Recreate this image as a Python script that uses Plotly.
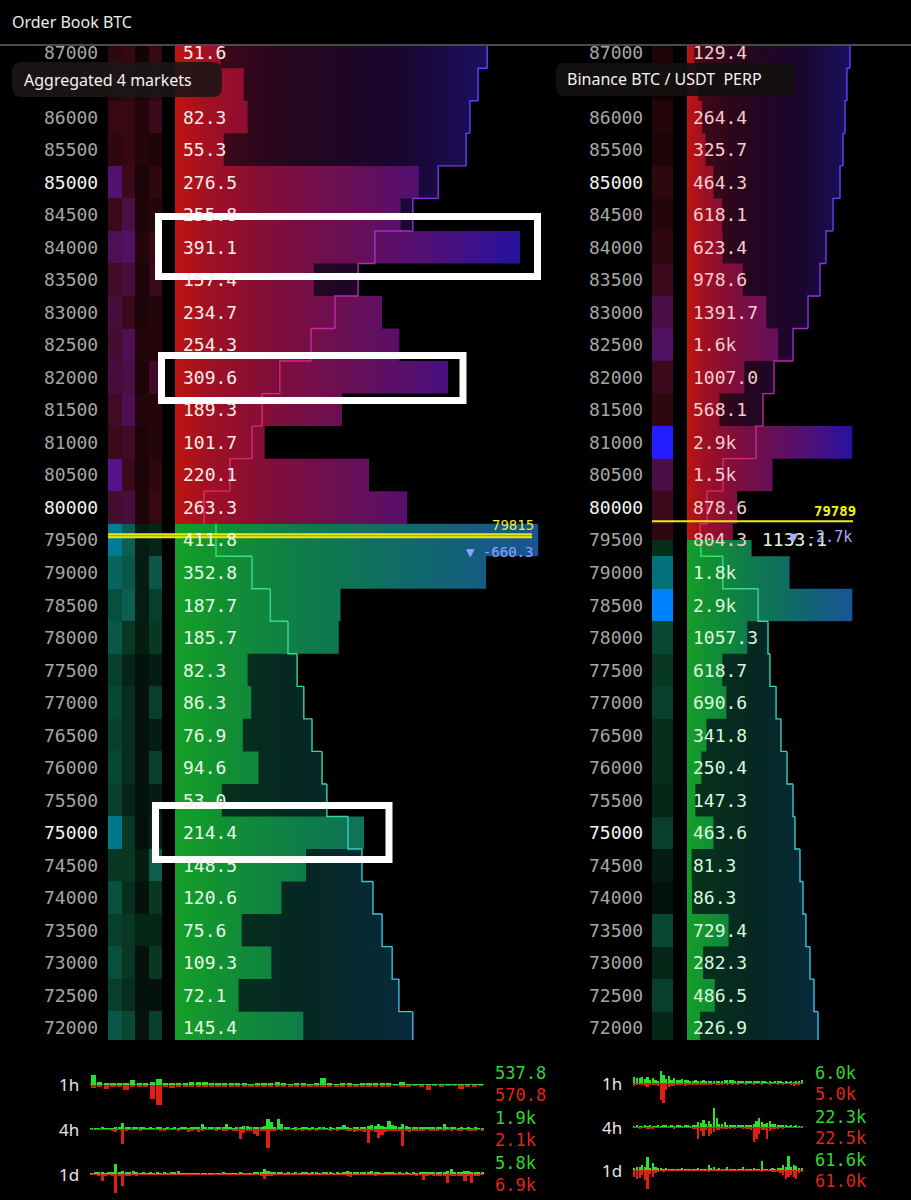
import plotly.graph_objects as go
from plotly.colors import sample_colorscale

W, H = 911, 1200
MONO = "DejaVu Sans Mono"
SANS = "Noto Sans"

# ---------------- data ----------------
# Left panel: aggregated 4 markets (rows labelled by price)
L_ASK_PRICES = [80000, 80500, 81000, 81500, 82000, 82500, 83000, 83500,
                84000, 84500, 85000, 85500, 86000, 86500, 87000]
L_ASK_VALUES = [263.3, 220.1, 101.7, 189.3, 309.6, 254.3, 234.7, 157.4,
                391.1, 255.8, 276.5, 55.3, 82.3, 78.0, 51.6]
L_ASK_CUM = [250, 520, 750, 855, 1040, 1365, 1615, 1855,
             2030, 2425, 2690, 2980, 3020, 3105, 3200]
L_ASK_CELLS = [[0.45, 0.50, 0.15, 0.30], [0.80, 0.35, 0.15, 0.25], [0.35, 0.40, 0.15, 0.20],
               [0.40, 0.60, 0.20, 0.20], [0.50, 0.55, 0.15, 0.40], [0.45, 0.60, 0.20, 0.20],
               [0.50, 0.35, 0.15, 0.20], [0.40, 0.50, 0.15, 0.35], [0.60, 0.65, 0.20, 0.30],
               [0.35, 0.55, 0.15, 0.20], [0.70, 0.35, 0.15, 0.25], [0.25, 0.30, 0.20, 0.15],
               [0.30, 0.30, 0.20, 0.35], [0.20, 0.25, 0.15, 0.25], [0.25, 0.30, 0.10, 0.30]]

L_BID_PRICES = [79500, 79000, 78500, 78000, 77500, 77000, 76500, 76000,
                75500, 75000, 74500, 74000, 73500, 73000, 72500, 72000]
L_BID_VALUES = [411.8, 352.8, 187.7, 185.7, 82.3, 86.3, 76.9, 94.6,
                53.0, 214.4, 148.5, 120.6, 75.6, 109.3, 72.1, 145.4]
L_BID_CUM = [375, 750, 940, 1125, 1220, 1290, 1375, 1480,
             1530, 1750, 1895, 2010, 2105, 2210, 2280, 2425]
L_BID_CELLS = [[0.80, 0.55, 0.15, 0.20], [0.60, 0.50, 0.15, 0.50], [0.45, 0.55, 0.15, 0.35],
               [0.50, 0.30, 0.15, 0.30], [0.35, 0.20, 0.10, 0.15], [0.40, 0.25, 0.10, 0.35],
               [0.35, 0.25, 0.10, 0.15], [0.40, 0.25, 0.10, 0.35], [0.35, 0.20, 0.10, 0.15],
               [0.75, 0.30, 0.10, 0.20], [0.30, 0.30, 0.15, 0.55], [0.45, 0.25, 0.10, 0.30],
               [0.35, 0.30, 0.20, 0.20], [0.45, 0.30, 0.10, 0.30], [0.35, 0.25, 0.10, 0.10],
               [0.50, 0.40, 0.10, 0.35]]
L_MID, L_CHANGE = 79815, "▼ -660.3"

# Right panel: Binance BTC/USDT PERP
R_ASK_PRICES = [79500, 80000, 80500, 81000, 81500, 82000, 82500, 83000,
                83500, 84000, 84500, 85000, 85500, 86000, 86500, 87000]
R_ASK_VALUES = [804.3, 878.6, 1500, 2900, 568.1, 1007.0, 1600, 1391.7,
                978.6, 623.4, 618.1, 464.3, 325.7, 264.4, 200.0, 129.4]
R_ASK_CUM = [1070, 1640, 2950, 5650, 6230, 7130, 8690, 9920,
             10900, 11390, 11970, 12540, 12790, 12950, 13110, 13360]
R_ASK_CELLS = [0.25, 0.35, 0.55, 1.0, 0.25, 0.35, 0.65, 0.55,
               0.35, 0.25, 0.20, 0.25, 0.15, 0.20, 0.10, 0.15]
R_BID_PRICES = [79500, 79000, 78500, 78000, 77500, 77000, 76500, 76000,
                75500, 75000, 74500, 74000, 73500, 73000, 72500, 72000]
R_BID_VALUES = [1133.1, 1800, 2900, 1057.3, 618.7, 690.6, 341.8, 250.4,
                147.3, 463.6, 81.3, 86.3, 729.4, 282.3, 486.5, 226.9]
R_BID_CUM = [1133, 2933, 5833, 6640, 6800, 7300, 7700, 8200,
             8690, 8850, 9260, 9510, 9750, 10080, 10410, 10740]
R_BID_CELLS = [0.25, 0.70, 1.0, 0.40, 0.30, 0.35, 0.25, 0.25,
               0.20, 0.35, 0.15, 0.10, 0.40, 0.20, 0.35, 0.20]
R_MID, R_CHANGE = 79789, "▼ -2.7k"
R_SPLIT = 79500          # row shared by asks (upper half) and bids (lower half)
HIDDEN_ROWS = {86500}    # covered by the market label boxes

# Trade-flow sparklines (buy up / sell down), relative heights
L_1H_BUY = [28,8,5,5,7,4,15,5,4,8,18,7,6,5,7,8,8,10,5,4,3,4,3,5,2,3,4,3,10,3,
            2,4,3,2,6,20,4,2,3,3,2,3,5,7,4,3,2,8,2,1,1,1,2,1,1,1,1,2,1,2]
L_1H_SELL = [10,3,12,6,5,15,4,3,5,40,58,5,8,4,6,3,5,4,3,6,4,3,7,5,4,3,5,4,6,3,
             4,5,3,4,3,6,4,3,5,6,3,4,3,5,4,3,2,4,3,2,3,15,2,5,2,2,12,3,4,2]
L_4H_BUY = [2,1,2,3,2,1,2,3,4,18, 3,4,5,3,4,3,2,3,2,4, 3,2,4,2,3,2,3,4,2,3,
            3,4,15,4,3,5,4,3,4,15, 3,2,4,5,10,8,6,5,4,6, 8,28,20,6,30,15,5,3,2,3,
            2,3,4,2,3,2,3,4,2,3, 2,3,4,12,3,2,4,5,6,7, 10,12,8,14,9,7,22,12,8,7,
            14,8,6,7,5,6,4,5,6,4, 3,4,15,3,4,3,2,3,2,3, 2,3,2,2]
L_4H_SELL = [1,2,1,2,1,2,3,8,2,45, 3,2,1,2,3,2,1,2,1,2, 3,5,2,1,2,3,2,2,8,3,
             2,10,3,2,1,2,3,2,6,3, 2,3,4,30,12,4,6,15,20,5, 4,55,6,3,2,3,2,1,2,3,
             2,3,2,3,2,3,2,1,2,3, 2,3,2,2,3,4,10,6,5,8, 42,6,9,25,18,8,6,5,4,7,
             48,6,8,4,3,4,3,2,3,4, 3,2,4,2,3,2,3,4,2,3, 4,3,2,3]
L_1D_BUY = [2,3,4,3,2,4,5,28,4,10, 5,4,8,3,2,3,2,3,2,3, 2,3,2,3,4,10,2,1,2,1,
            1,2,1,2,1,2,1,2,3,2, 2,1,2,3,2,1,2,3,5,6, 15,8,5,4,6,3,2,3,2,3,
            2,4,3,2,3,4,2,3,4,3, 2,3,2,4,10,5,3,4,3,4, 3,8,4,3,2,3,4,3,2,3,
            2,3,2,3,2,3,4,3,5,4, 6,5,7,8,15,6,5,7,10,8, 6,5,4,3]
L_1D_SELL = [1,2,3,20,4,2,3,55,5,35, 4,3,2,3,2,1,2,1,2,1, 1,2,1,1,2,1,1,2,1,1,
             1,1,2,1,1,2,1,1,2,1, 1,2,1,1,2,1,2,1,2,3, 15,4,3,2,1,2,1,2,1,2,
             1,2,1,1,2,1,2,1,1,2, 1,2,1,2,3,10,2,1,2,1, 2,1,5,2,1,2,1,2,1,2,
             1,2,1,2,3,2,18,3,2,3, 4,3,5,25,6,4,5,3,20,6, 25,4,3,2]
R_1H_BUY = [17,16,14,17,12,18,10,14,8,6, 35,24,12,20,10,16,8,10,12,8, 9,6,7,8,5,6,8,6,5,6,
            4,7,5,6,8,10,9,8,6,5, 4,3,5,4,3,4,3,5,4,3, 2,3,2,3,4,3,2,3,2,3, 2,4,3,8]
R_1H_SELL = [8,6,7,5,8,12,6,5,4,8, 50,58,20,12,8,10,6,7,5,8, 4,5,3,4,3,4,5,3,4,3,
             2,3,4,3,2,3,2,3,2,3, 2,2,3,2,2,3,2,2,3,2, 2,3,2,2,3,2,3,2,2,3, 10,4,3,2]
R_4H_BUY = [2,3,2,2,3,2,3,2,2,3, 2,3,4,2,3,2,3,4,2,3, 3,2,4,6,15,12,20,8,18,10,
            55,25,10,8,15,6,4,3,5,4, 3,4,3,5,6,10,18,25,15,10, 12,18,8,8,6,5,4,3,2,3, 2,3,2,2]
R_4H_SELL = [1,2,3,2,2,3,6,3,2,1, 2,1,2,1,2,5,1,2,1,2, 1,2,3,5,35,12,25,8,25,20,
             15,8,10,6,5,4,3,2,3,2, 2,3,4,6,10,45,35,20,10,8, 35,12,6,4,3,2,3,2,1,2, 1,2,1,2]
R_1D_BUY = [6,10,8,15,8,38,6,20,8,4, 3,2,3,2,1,2,1,2,3,2, 1,2,1,2,3,2,1,2,15,3,
            10,2,3,2,1,8,2,1,2,1, 2,10,2,1,2,3,2,1,25,2, 1,2,3,2,4,6,15,8,40,10, 15,12,6,3]
R_1D_SELL = [20,25,22,15,30,55,12,20,8,3, 2,3,2,1,2,1,2,1,2,1, 1,2,1,1,2,1,1,2,3,1,
             2,1,2,1,1,2,1,1,2,1, 1,2,1,1,2,1,1,2,3,1, 2,1,3,4,6,10,15,25,20,15, 20,25,8,3]
PERIODS = ["1h", "4h", "1d"]
L_TOTALS = [("537.8", "570.8"), ("1.9k", "2.1k"), ("5.8k", "6.9k")]
R_TOTALS = [("6.0k", "5.0k"), ("22.3k", "22.5k"), ("61.6k", "61.0k")]

# ---------------- styles ----------------
ASK_BAR_CS = [[0, 'rgb(190,20,15)'], [0.1, 'rgb(160,16,35)'], [0.28, 'rgb(128,14,58)'],
              [0.55, 'rgb(100,15,92)'], [0.8, 'rgb(72,16,128)'], [1, 'rgb(38,18,160)']]
BID_BAR_CS = [[0, 'rgb(20,160,38)'], [0.12, 'rgb(18,145,50)'], [0.35, 'rgb(14,125,72)'],
              [0.65, 'rgb(16,105,105)'], [1, 'rgb(24,84,150)']]
ASK_AREA_CS = [[0, 'rgb(72,9,22)'], [0.35, 'rgb(38,6,30)'], [0.7, 'rgb(26,6,45)'],
               [1, 'rgb(26,16,95)']]
BID_AREA_CS = [[0, 'rgb(7,52,28)'], [0.5, 'rgb(5,40,34)'], [1, 'rgb(6,42,60)']]
ASK_LINE_CS = [[0, 'rgb(235,40,95)'], [0.5, 'rgb(195,40,165)'], [0.8, 'rgb(135,50,230)'],
               [1, 'rgb(90,70,255)']]
BID_LINE_CS = [[0, 'rgb(50,230,110)'], [0.6, 'rgb(60,210,170)'], [1, 'rgb(60,190,235)']]
ASK_CELL_CS = [[0, 'rgb(0,0,0)'], [0.3, 'rgb(55,8,18)'], [0.55, 'rgb(75,15,70)'],
               [0.8, 'rgb(85,20,140)'], [1, 'rgb(35,30,255)']]
BID_CELL_CS = [[0, 'rgb(0,0,0)'], [0.3, 'rgb(8,55,35)'], [0.55, 'rgb(10,95,80)'],
               [0.8, 'rgb(0,125,150)'], [1, 'rgb(0,130,255)']]
GREEN, RED = 'rgb(40,225,40)', 'rgb(225,30,20)'


def xd(a, b):
    return [a / W, b / W]


def yd(a, b):
    return [1 - b / H, 1 - a / H]


def fmt(v):
    return f"{v / 1000:.1f}k" if v >= 1500 else f"{v:.1f}"


fig = go.Figure()
annotations = []
shapes = []


def ann(text, x, y, size=18, color='white', family=MONO, xanchor='left', yref='paper', bold=False, **kw):
    yy = y if yref != 'paper' else 1 - y / H
    annotations.append(dict(text=f"<b>{text}</b>" if bold else text, x=x / W, y=yy, xref='paper', yref=yref,
                            xanchor=xanchor, yanchor='middle', showarrow=False,
                            font=dict(size=size, color=color, family=family), **kw))


def area_poly(cum, y_start, y_end):
    xs, ys = [0], [y_start[0]]
    for c, a, b in zip(cum, y_start, y_end):
        xs += [c, c]
        ys += [a, b]
    xs.append(0)
    ys.append(y_end[-1])
    return xs, ys


def rects(vals, y0s, y1s):
    xs, ys = [], []
    for v, a, b in zip(vals, y0s, y1s):
        xs += [0, v, v, 0, 0, None]
        ys += [a, a, b, b, a, None]
    return xs, ys


def add_side(vals, cum, y_start, y_end, bar_cs, area_cs, line_cs, xa_area, xa_bar, xa_line, ya):
    ax, ay = area_poly(cum, y_start, y_end)
    fig.add_trace(go.Scatter(x=ax, y=ay, mode='none', fill='toself',
                             fillgradient=dict(type='horizontal', colorscale=area_cs, start=0, stop=max(cum)),
                             xaxis=xa_area, yaxis=ya, hoverinfo='skip', showlegend=False))
    y0s = [min(a, b) for a, b in zip(y_start, y_end)]
    y1s = [max(a, b) for a, b in zip(y_start, y_end)]
    bx, by = rects(vals, y0s, y1s)
    fig.add_trace(go.Scatter(x=bx, y=by, mode='none', fill='toself',
                             fillgradient=dict(type='horizontal', colorscale=bar_cs, start=0, stop=max(vals)),
                             xaxis=xa_bar, yaxis=ya, hoverinfo='skip', showlegend=False))
    cols = sample_colorscale(line_cs, [c / max(cum) for c in cum])
    for i, c in enumerate(cum):
        xs, ys = [c, c], [y_start[i], y_end[i]]
        if i + 1 < len(cum):
            xs.append(cum[i + 1])
            ys.append(y_end[i])
        fig.add_trace(go.Scatter(x=xs, y=ys, mode='lines', line=dict(color=cols[i], width=1.4),
                                 xaxis=xa_line, yaxis=ya, hoverinfo='skip', showlegend=False))


# ---------- left panel (rows span [P, P+500]) ----------
add_side(L_ASK_VALUES, L_ASK_CUM, L_ASK_PRICES, [p + 500 for p in L_ASK_PRICES],
         ASK_BAR_CS, ASK_AREA_CS, ASK_LINE_CS, 'x', 'x2', 'x3', 'y')
add_side(L_BID_VALUES, L_BID_CUM, [p + 500 for p in L_BID_PRICES], L_BID_PRICES,
         BID_BAR_CS, BID_AREA_CS, BID_LINE_CS, 'x', 'x2', 'x3', 'y')
fig.add_trace(go.Heatmap(z=L_ASK_CELLS, x=[0, 1, 2, 3], y=L_ASK_PRICES + [L_ASK_PRICES[-1] + 500],
                         colorscale=ASK_CELL_CS, zmin=0, zmax=1, showscale=False,
                         xaxis='x7', yaxis='y', hoverinfo='skip'))
bid_asc = L_BID_PRICES[::-1]
fig.add_trace(go.Heatmap(z=L_BID_CELLS[::-1], x=[0, 1, 2, 3], y=bid_asc + [bid_asc[-1] + 500],
                         colorscale=BID_CELL_CS, zmin=0, zmax=1, showscale=False,
                         xaxis='x7', yaxis='y', hoverinfo='skip'))

# ---------- right panel (rows span [P-250, P+250], split row shared) ----------
r_ask_lo = [max(p - 250, R_SPLIT) for p in R_ASK_PRICES]
r_ask_hi = [p + 250 for p in R_ASK_PRICES]
r_bid_hi = [min(p + 250, R_SPLIT) for p in R_BID_PRICES]
r_bid_lo = [p - 250 for p in R_BID_PRICES]
add_side(R_ASK_VALUES, R_ASK_CUM, r_ask_lo, r_ask_hi,
         ASK_BAR_CS, ASK_AREA_CS, ASK_LINE_CS, 'x4', 'x5', 'x6', 'y2')
add_side(R_BID_VALUES, R_BID_CUM, r_bid_hi, r_bid_lo,
         BID_BAR_CS, BID_AREA_CS, BID_LINE_CS, 'x4', 'x5', 'x6', 'y2')
fig.add_trace(go.Heatmap(z=[[v] for v in R_ASK_CELLS], x=[0], y=[r_ask_lo[0]] + r_ask_hi,
                         colorscale=ASK_CELL_CS, zmin=0, zmax=1, showscale=False,
                         xaxis='x8', yaxis='y2', hoverinfo='skip'))
fig.add_trace(go.Heatmap(z=[[v] for v in R_BID_CELLS[::-1]], x=[0], y=[r_bid_lo[-1]] + r_bid_hi[::-1],
                         colorscale=BID_CELL_CS, zmin=0, zmax=1, showscale=False,
                         xaxis='x8', yaxis='y2', hoverinfo='skip'))

# ---------- sparklines ----------
spark_sets = [
    ('x9', 'y3', L_1H_BUY, L_1H_SELL, xd(90, 484), 1084.5, 0.8),
    ('x10', 'y4', L_4H_BUY, L_4H_SELL, xd(90, 484), 1129, 0.9),
    ('x11', 'y5', L_1D_BUY, L_1D_SELL, xd(90, 484), 1174, 0.9),
    ('x12', 'y6', R_1H_BUY, R_1H_SELL, xd(633, 803), 1083, 0.85),
    ('x13', 'y7', R_4H_BUY, R_4H_SELL, xd(633, 803), 1127, 0.85),
    ('x14', 'y8', R_1D_BUY, R_1D_SELL, xd(633, 803), 1170, 0.85),
]
layout_axes = {}
for xa, ya, buy, sell, dom, base, bw in spark_sets:
    idx = list(range(len(buy)))
    fig.add_trace(go.Bar(x=idx, y=buy, marker=dict(color=GREEN, line=dict(width=0)), width=bw,
                         xaxis=xa, yaxis=ya, hoverinfo='skip', showlegend=False))
    fig.add_trace(go.Bar(x=idx, y=[-s for s in sell], marker=dict(color=RED, line=dict(width=0)), width=bw,
                         xaxis=xa, yaxis=ya, hoverinfo='skip', showlegend=False))
    layout_axes['xaxis' + xa[1:]] = dict(domain=dom, range=[-0.5, len(buy) - 0.5], anchor=ya,
                                         visible=False, fixedrange=True)
    layout_axes['yaxis' + ya[1:]] = dict(domain=yd(base - 22, base + 22), range=[-64, 64], anchor=xa,
                                         showticklabels=False, showgrid=False, zeroline=True,
                                         zerolinecolor='#6a6a6a', zerolinewidth=1, ticks='',
                                         showline=False, fixedrange=True)

# ---------- text: price + value labels ----------
def price_color(p):
    return '#f4f4f4' if p % 5000 == 0 else '#a6a6a6'


for p, v in zip(L_ASK_PRICES + L_BID_PRICES, L_ASK_VALUES + L_BID_VALUES):
    if p in HIDDEN_ROWS:
        continue
    ann(str(p), 100, p + 250, color=price_color(p), xanchor='right', yref='y')
    ann(fmt(v), 181, p + 250, color='#f8ecec' if p >= 80000 else '#e6fae6', yref='y')

for p in sorted(set(R_ASK_PRICES + R_BID_PRICES), reverse=True):
    if p in HIDDEN_ROWS:
        continue
    ann(str(p), 645, p, color=price_color(p), xanchor='right', yref='y2')
for p, v in zip(R_ASK_PRICES, R_ASK_VALUES):
    if p not in HIDDEN_ROWS:
        ann(fmt(v), 691, p, color='#f6cccc', yref='y2')
for p, v in zip(R_BID_PRICES, R_BID_VALUES):
    x = 760 if p == R_SPLIT else 691
    ann(fmt(v), x, p, color='#dcf8dc', yref='y2')

# ---------- mid price lines ----------
shapes.append(dict(type='line', xref='paper', yref='y', x0=108 / W, x1=532 / W, y0=L_MID, y1=L_MID,
                   line=dict(color='rgb(232,232,20)', width=5), layer='above'))
shapes.append(dict(type='line', xref='paper', yref='y', x0=108 / W, x1=532 / W, y0=L_MID, y1=L_MID,
                   line=dict(color='rgb(150,150,30)', width=1), layer='above'))
shapes.append(dict(type='line', xref='paper', yref='y2', x0=652 / W, x1=853 / W, y0=R_MID, y1=R_MID,
                   line=dict(color='rgb(235,235,20)', width=2), layer='above'))
ann(str(L_MID), 536, 525, size=14, color='rgb(240,240,30)', xanchor='right')
ann(L_CHANGE, 535, 552, size=14, color='rgb(150,160,255)', xanchor='right')
ann(str(R_MID), 858, 511, size=14, color='rgb(245,245,10)', xanchor='right', bold=True)
ann(R_CHANGE, 854, 537, size=15, color='rgb(170,170,255)', xanchor='right')

# ---------- highlight boxes ----------
for x0, x1, y0, y1 in [(158.5, 537.5, 216.5, 276.5), (161.5, 463, 355.5, 400.5), (155.5, 389, 805.5, 859.5)]:
    shapes.append(dict(type='rect', xref='paper', yref='paper', x0=x0 / W, x1=x1 / W,
                       y0=1 - y1 / H, y1=1 - y0 / H, line=dict(color='white', width=7),
                       fillcolor='rgba(0,0,0,0)', layer='above'))


def rounded(x0, y0, x1, y1, r):
    X = lambda v: v / W
    Y = lambda v: 1 - v / H
    return (f"M {X(x0 + r)} {Y(y0)} L {X(x1 - r)} {Y(y0)} Q {X(x1)} {Y(y0)} {X(x1)} {Y(y0 + r)} "
            f"L {X(x1)} {Y(y1 - r)} Q {X(x1)} {Y(y1)} {X(x1 - r)} {Y(y1)} "
            f"L {X(x0 + r)} {Y(y1)} Q {X(x0)} {Y(y1)} {X(x0)} {Y(y1 - r)} "
            f"L {X(x0)} {Y(y0 + r)} Q {X(x0)} {Y(y0)} {X(x0 + r)} {Y(y0)} Z")


shapes.append(dict(type='path', xref='paper', yref='paper', path=rounded(12, 62, 222, 97, 10),
                   fillcolor='rgba(28,22,22,0.9)', line=dict(width=0), layer='above'))
shapes.append(dict(type='path', xref='paper', yref='paper', path=rounded(556, 63, 795, 96, 8),
                   fillcolor='rgba(18,16,16,0.92)', line=dict(width=0), layer='above'))
ann("Aggregated 4 markets", 22, 80, size=16, color='#f2f2f2', family=SANS)
ann("Binance BTC / USDT&nbsp;&nbsp;PERP", 565, 79, size=16, color='#f2f2f2', family=SANS)

# ---------- header ----------
shapes.append(dict(type='line', xref='paper', yref='paper', x0=0, x1=1, y0=1 - 45 / H, y1=1 - 45 / H,
                   line=dict(color='#4a4a4a', width=2)))
ann("Order Book BTC", 10, 22, size=16, color='#ececec', family=SANS)

# ---------- sparkline labels ----------
for i, per in enumerate(PERIODS):
    lb = spark_sets[i][5]
    rb = spark_sets[i + 3][5]
    ann(per, 81, lb, size=17, color='#e6e6e6', family=SANS, xanchor='right')
    ann(per, 624, rb, size=17, color='#e6e6e6', family=SANS, xanchor='right')
    ann(L_TOTALS[i][0], 493, lb - 11.5, size=17, color='rgb(50,215,50)')
    ann(L_TOTALS[i][1], 493, lb + 10.5, size=17, color='rgb(220,40,25)')
    ann(R_TOTALS[i][0], 813, rb - 10.5, size=17, color='rgb(50,215,50)')
    ann(R_TOTALS[i][1], 813, rb + 10.5, size=17, color='rgb(220,40,25)')

hidden = dict(visible=False, fixedrange=True)
fig.update_layout(
    width=W, height=H, autosize=False,
    margin=dict(l=0, r=0, t=0, b=0, pad=0),
    paper_bgcolor='black', plot_bgcolor='black',
    showlegend=False, barmode='overlay', bargap=0,
    xaxis=dict(domain=xd(175, 545), range=[-52.1, 3802], anchor='y', **hidden),
    xaxis2=dict(domain=xd(175, 545), range=[0, 419.5], overlaying='x', anchor='y', **hidden),
    xaxis3=dict(domain=xd(175, 545), range=[-52.1, 3802], overlaying='x', anchor='y', **hidden),
    xaxis4=dict(domain=xd(687, 870), range=[0, 15000], anchor='y2', **hidden),
    xaxis5=dict(domain=xd(687, 870), range=[0, 3210.5], overlaying='x4', anchor='y2', **hidden),
    xaxis6=dict(domain=xd(687, 870), range=[0, 15000], overlaying='x4', anchor='y2', **hidden),
    xaxis7=dict(domain=xd(108, 162), range=[-0.5, 3.5], anchor='y', **hidden),
    xaxis8=dict(domain=xd(652, 673), range=[-0.5, 0.5], anchor='y2', **hidden),
    yaxis=dict(domain=yd(45, 1040), range=[72064, 87358], anchor='x', **hidden),
    yaxis2=dict(domain=yd(45, 1040), range=[71814, 87108], anchor='x4', **hidden),
    annotations=annotations, shapes=shapes,
)
fig.update_layout(**layout_axes)
fig.write_html("out.html")
